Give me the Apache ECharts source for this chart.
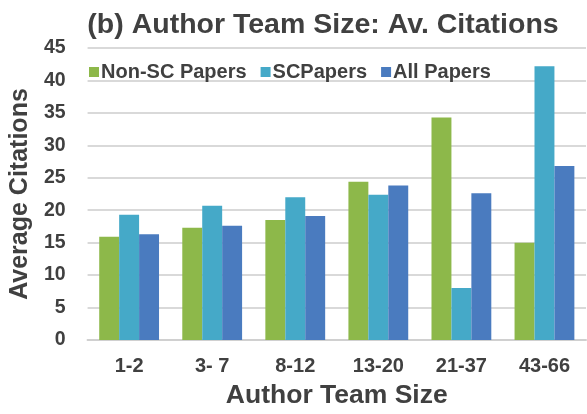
<!DOCTYPE html>
<html><head><meta charset="utf-8">
<script src="https://cdn.jsdelivr.net/npm/echarts@6/dist/echarts.min.js"></script>
<style>html,body{margin:0;padding:0;background:#fff}#c{width:587px;height:414px}</style>
</head><body><div id="c"></div>
<script>
const categories = ['1-2', '3- 7', '8-12', '13-20', '21-37', '43-66'];
const nonSC = [15.9, 17.3, 18.5, 24.4, 34.3, 15.0];
const scPapers = [19.3, 20.7, 22.0, 22.4, 8.0, 42.2];
const allPapers = [16.3, 17.6, 19.1, 23.8, 22.6, 26.8];
const seriesNames = ['Non-SC Papers', 'SCPapers', 'All Papers'];
const yTicks = [0, 5, 10, 15, 20, 25, 30, 35, 40, 45];

const font = 'Liberation Sans, Arial, sans-serif';
const txt = '#404040';
const chart = echarts.init(document.getElementById('c'));
chart.setOption({
  animation: false,
  title: {
    text: '(b) Author Team Size: Av. Citations',
    left: 318, top: 6, textAlign: 'center',
    textStyle: { fontFamily: font, fontSize: 28.5, fontWeight: 'bold', color: txt }
  },
  legend: {
    left: 84, top: 57,
    itemWidth: 10, itemHeight: 10, itemGap: 14,
    icon: 'rect',
    textStyle: { fontFamily: font, fontSize: 20, fontWeight: 'bold', color: txt, padding: [0, 0, 0, -3] },
    data: seriesNames
  },
  grid: { left: 85, right: 1, top: 48, bottom: 74 },
  xAxis: {
    type: 'category', data: categories,
    name: 'Author Team Size', nameLocation: 'middle', nameGap: 42,
    nameTextStyle: { fontFamily: font, fontSize: 26.5, fontWeight: 'bold', color: txt },
    axisTick: { show: false },
    axisLine: { lineStyle: { color: '#d0d0d0', width: 2 } },
    axisLabel: { fontFamily: font, fontSize: 20, fontWeight: 'bold', color: txt, margin: 16 }
  },
  yAxis: {
    type: 'value', min: yTicks[0], max: yTicks[yTicks.length - 1], interval: 5,
    name: 'Average Citations', nameLocation: 'middle', nameGap: 48, nameRotate: 90,
    nameTextStyle: { fontFamily: font, fontSize: 25, fontWeight: 'bold', color: txt },
    axisLine: { show: false }, axisTick: { show: false },
    axisLabel: { fontFamily: font, fontSize: 19.5, fontWeight: 'bold', color: txt, margin: 22 },
    splitLine: { lineStyle: { color: '#d9d9d9', width: 2 } }
  },
  series: [
    { name: seriesNames[0], type: 'bar', data: nonSC, itemStyle: { color: '#8db84a' }, barGap: '0%', barCategoryGap: '28%' },
    { name: seriesNames[1], type: 'bar', data: scPapers, itemStyle: { color: '#45a9c8' }, barGap: '0%', barCategoryGap: '28%' },
    { name: seriesNames[2], type: 'bar', data: allPapers, itemStyle: { color: '#4a7bbf' }, barGap: '0%', barCategoryGap: '28%' }
  ]
});
</script></body></html>
